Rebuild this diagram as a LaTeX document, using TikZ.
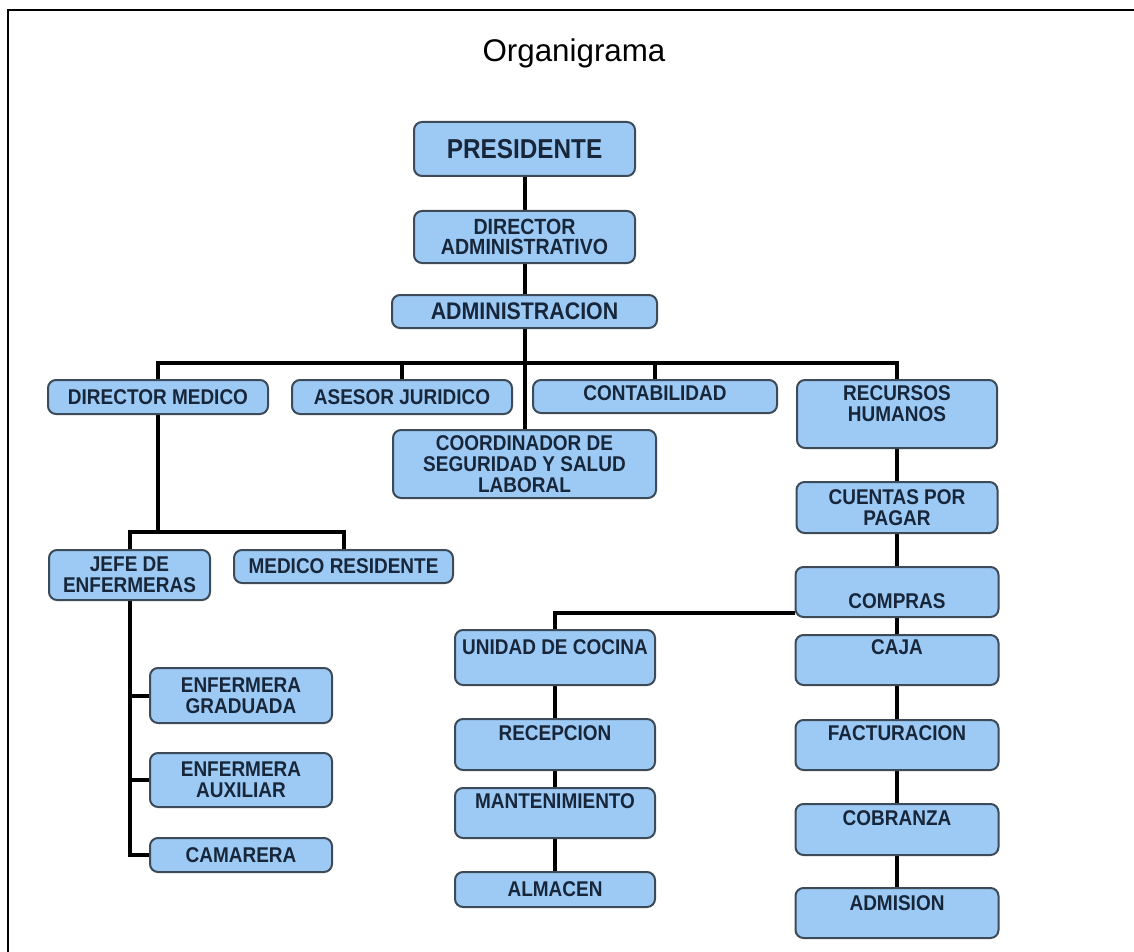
\documentclass[tikz,border=0pt]{standalone}
\usepackage{fontspec}
\setmainfont{Liberation Sans}
\newfontfamily\cardfamily{Liberation Sans}[FakeStretch=0.89]
\usetikzlibrary{backgrounds}
\definecolor{cardfill}{HTML}{9DCAF5}
\definecolor{cardline}{HTML}{3D4A58}
\definecolor{cardink}{HTML}{18263A}
\begin{document}
\begin{tikzpicture}[x=0.75pt, y=-0.75pt,
  card/.style={draw=cardline, fill=cardfill, line width=1.5pt, rounded corners=6pt,
    inner sep=0pt, align=center, text=cardink,
    font=\cardfamily\bfseries\fontsize{16}{15.5}\selectfont},
  size/.style 2 args={minimum width=#1*0.75pt, minimum height=#2*0.75pt},
  cardtext/.style={text=cardink, align=center, inner sep=0pt,
    font=\cardfamily\bfseries\fontsize{16}{15.5}\selectfont},
  link/.style={line width=3pt, black}]
\useasboundingbox (0,0) rectangle (1134,952);
\draw[line width=2.2pt] (8,952) -- (8,10) -- (1134,10);
\node[inner sep=0pt, font=\fontsize{23.5}{28}\selectfont] (title) at (574,53) {Organigrama};

% top of the chart
\node[card, size={221}{54}, font=\cardfamily\bfseries\fontsize{20.5}{20}\selectfont] (pres) at (524.5,149) {PRESIDENTE};
\node[card, size={221}{52}, font=\cardfamily\bfseries\fontsize{16.5}{15.5}\selectfont] (diradm) at (524.5,237) {DIRECTOR\\ADMINISTRATIVO};
\node[card, size={265}{33}, font=\cardfamily\bfseries\fontsize{18}{18}\selectfont] (adm) at (524.5,311.5) {ADMINISTRACION};

% first level
\node[card, size={220}{34}] (dirmed) at (158,397) {DIRECTOR MEDICO};
\node[card, size={220}{34}] (asesor) at (402,397) {ASESOR JURIDICO};
\node[card, size={263}{68}] (coord) at (524.5,464) {COORDINADOR DE\\SEGURIDAD Y SALUD\\LABORAL};
\node[card, size={244}{33}, label={[cardtext,yshift=2.6pt]center:CONTABILIDAD}] (contab) at (655,396.5) {};
\node[card, size={200}{68}, label={[cardtext,yshift=7.9pt]center:{RECURSOS\\HUMANOS}}] (rrhh) at (897,414) {};

% medical side
\node[card, size={161}{50}] (jefe) at (129.5,575) {JEFE DE\\ENFERMERAS};
\node[card, size={219}{33}] (medres) at (343.5,566.5) {MEDICO RESIDENTE};
\node[card, size={182}{55}] (enfgrad) at (241,695.5) {ENFERMERA\\GRADUADA};
\node[card, size={182}{54}] (enfaux) at (241,780) {ENFERMERA\\AUXILIAR};
\node[card, size={182}{34}] (camarera) at (241,855) {CAMARERA};

% services column
\node[card, size={200}{55}, label={[cardtext,yshift=7.9pt]center:UNIDAD DE COCINA}] (unidad) at (555,657.5) {};
\node[card, size={200}{51}, label={[cardtext,yshift=8.6pt]center:RECEPCION}] (recep) at (555,744.5) {};
\node[card, size={200}{50}, label={[cardtext,yshift=9pt]center:MANTENIMIENTO}] (mant) at (555,813) {};
\node[card, size={200}{35}] (almacen) at (555,889.5) {ALMACEN};

% finance column
\node[card, size={201}{51}] (cuentas) at (897,507.5) {CUENTAS POR\\PAGAR};
\node[card, size={203}{50}, label={[cardtext,yshift=-6.75pt]center:COMPRAS}] (compras) at (897,592) {};
\node[card, size={203}{50}, label={[cardtext,yshift=9.75pt]center:CAJA}] (caja) at (897,660) {};
\node[card, size={203}{50}, label={[cardtext,yshift=9pt]center:FACTURACION}] (fact) at (897,745) {};
\node[card, size={203}{51}, label={[cardtext,yshift=8.6pt]center:COBRANZA}] (cobr) at (897,829.5) {};
\node[card, size={203}{50}, label={[cardtext,yshift=7.5pt]center:ADMISION}] (admis) at (897,913) {};

\coordinate (bus) at (0,363);
\coordinate (mbus) at (0,532);
\coordinate (kbus) at (0,613);

\begin{scope}[on background layer]
\draw[link] (pres.south) -- (diradm.north);
\draw[link] (diradm.south) -- (adm.north);
\draw[link] (adm.south) -- (coord.north);
\draw[link] (dirmed.north) -- (dirmed.north |- bus) -- (rrhh.north |- bus) -- (rrhh.north);
\draw[link] (asesor.north) -- (asesor.north |- bus);
\draw[link] (contab.north) -- (contab.north |- bus);
\draw[link] (dirmed.south) -- (dirmed.south |- mbus);
\draw[link] (jefe.north) -- (jefe.north |- mbus) -- (medres.north |- mbus) -- (medres.north);
\draw[link] (jefe.south) |- (camarera.west);
\draw[link] (jefe.south |- enfgrad.west) -- (enfgrad.west);
\draw[link] (jefe.south |- enfaux.west) -- (enfaux.west);
\draw[link] (rrhh.south) -- (cuentas.north);
\draw[link] (cuentas.south) -- (compras.north);
\draw[link] (compras.south) -- (caja.north);
\draw[link] (caja.south) -- (fact.north);
\draw[link] (fact.south) -- (cobr.north);
\draw[link] (cobr.south) -- (admis.north);
\draw[link] (compras.west |- kbus) -| (unidad.north);
\draw[link] (unidad.south) -- (recep.north);
\draw[link] (recep.south) -- (mant.north);
\draw[link] (mant.south) -- (almacen.north);
\end{scope}
\end{tikzpicture}
\end{document}
